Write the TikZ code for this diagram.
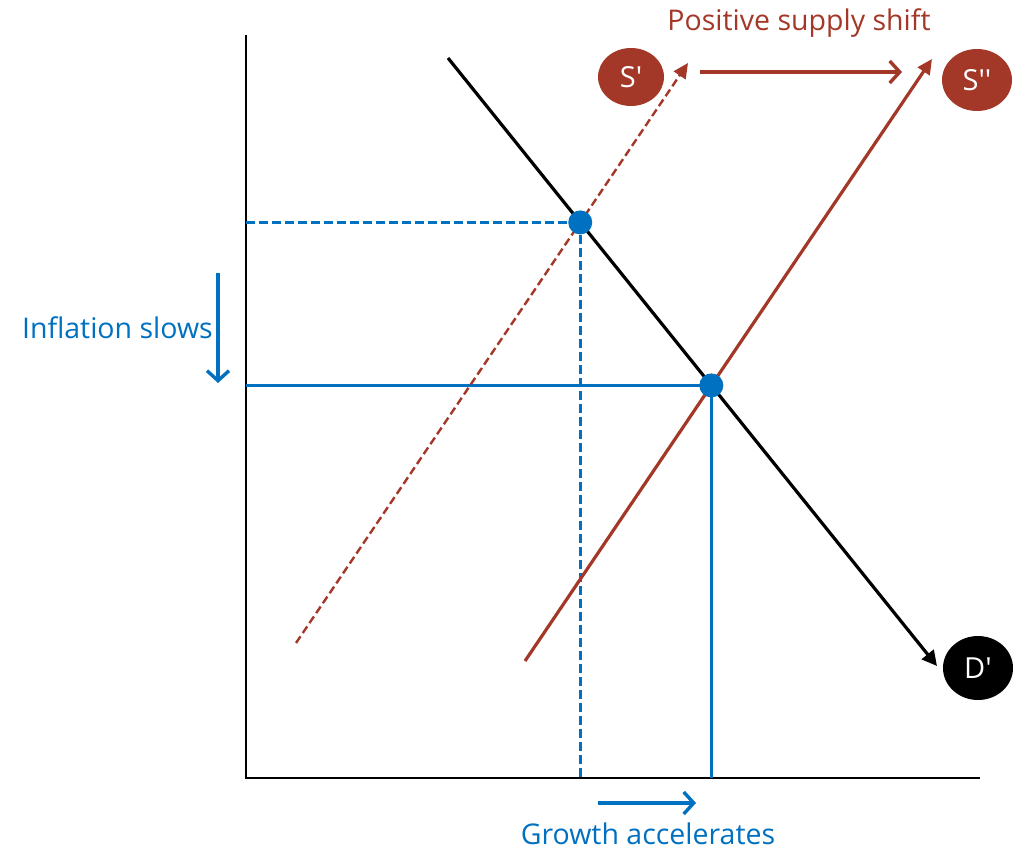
\documentclass[tikz,border=0pt]{standalone}
\usepackage{fontspec}
\setmainfont{Open Sans}
\usetikzlibrary{arrows.meta,shapes.geometric}
\definecolor{sred}{HTML}{A33828}
\definecolor{sblue}{HTML}{0070C0}
\tikzset{
  axis/.style={line width=1.6pt,black},
  curveD/.style={line width=3.2pt,black,-{Triangle[length=15pt,width=15pt]}},
  curveS/.style={line width=3.2pt,sred,-{Triangle[length=15pt,width=14pt]}},
  curveSd/.style={line width=2.4pt,sred,dash pattern=on 8pt off 4pt,-{Triangle[length=15pt,width=14pt]}},
  guide/.style={line width=3.2pt,sblue},
  guided/.style={line width=2.8pt,sblue,dash pattern=on 9pt off 4pt},
  dot/.style={circle,fill=sblue,inner sep=0pt,minimum size=24pt},
  lab/.style={ellipse,inner sep=0pt,text=white,font=\fontsize{29}{31}\selectfont},
  openarrow/.style={line width=3.4pt,-{Straight Barb[length=10pt,width=22pt,line width=3.4pt]}},
  txt/.style={font=\fontsize{28.5}{32}\selectfont,inner sep=0pt}
}
\begin{document}
\begin{tikzpicture}[x=1pt,y=-1pt]
\path[use as bounding box] (0,0) rectangle (1025,850);
% axes
\coordinate (O) at (246,778);
\coordinate (Ytop) at (246,35);
\coordinate (Xend) at (980,778);
\draw[axis] (Ytop) -- (O) -- (Xend);
% curve endpoints
\coordinate (Ds) at (448,58);
\coordinate (De) at (937,666);
\coordinate (S1s) at (296,643);
\coordinate (S1e) at (688,63);
\coordinate (S2s) at (525,661);
\coordinate (S2e) at (932,59);
% equilibria
\coordinate (E1) at (intersection of Ds--De and S1s--S1e);
\coordinate (E2) at (intersection of Ds--De and S2s--S2e);
% guide lines
\draw[guided] (O |- E1) -- (E1);
\draw[guided] (E1) -- (E1 |- O);
\draw[guide] (O |- E2) -- (E2);
\draw[guide] (E2) -- (E2 |- O);
% curves
\draw[curveSd] (S1s) -- (S1e);
\draw[curveS] (S2s) -- (S2e);
\draw[curveD] (Ds) -- (De);
% dots
\node[dot] (P1) at (E1) {};
\node[dot] (P2) at (E2) {};
% labels
\node[lab,fill=sred,minimum width=66pt,minimum height=58pt] (Sp) at (631,77) {S′};
\node[lab,fill=sred,minimum width=70pt,minimum height=62pt] (Spp) at (977,80) {S′′};
\node[lab,fill=black,minimum width=70pt,minimum height=64pt] (Dp) at (978,668) {D′};
% supply shift
\coordinate (Sh1) at (700,72);
\coordinate (Sh2) at (902,72);
\draw[openarrow,sred] (Sh1) -- (Sh2);
\node[txt,text=sred] (shift) at (799,23) {Positive supply shift};
% inflation
\coordinate (I1) at (218,273);
\coordinate (I2) at (218,383);
\draw[openarrow,sblue] (I1) -- (I2);
\node[txt,text=sblue,anchor=east] (infl) at (213,328) {Inflation slows};
% growth
\coordinate (G1) at (598,803);
\coordinate (G2) at (696,803);
\draw[openarrow,sblue] (G1) -- (G2);
\node[txt,text=sblue] (growth) at (648,834) {Growth accelerates};
\end{tikzpicture}
\end{document}
